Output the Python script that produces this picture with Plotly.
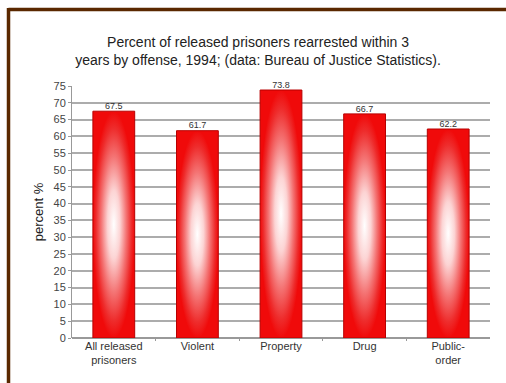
import plotly.graph_objects as go

# Rearrest rates within 3 years of release, 1994 (Bureau of Justice Statistics)
categories = ["All released<br>prisoners", "Violent", "Property", "Drug", "Public-<br>order"]
values = [67.5, 61.7, 73.8, 66.7, 62.2]
y_ticks = list(range(0, 80, 5))

BAR_HALF = 0.25  # half of the bar width, in category units

fig = go.Figure()

# Each bar is a filled rectangle so it can carry a radial white-to-red glow
for i, v in enumerate(values):
    fig.add_trace(go.Scatter(
        x=[i - BAR_HALF, i + BAR_HALF, i + BAR_HALF, i - BAR_HALF, i - BAR_HALF],
        y=[0, 0, v, v, 0],
        mode="lines",
        fill="toself",
        fillgradient=dict(
            type="radial",
            colorscale=[[0.0, "#ffffff"], [0.3, "#fcd4d4"], [0.6, "#f47474"],
                        [0.85, "#ee2c2c"], [1.0, "#f00a0a"]],
        ),
        line=dict(color="#b80000", width=1),
        hoverinfo="skip",
        showlegend=False,
    ))

# Value labels above the bars
fig.add_trace(go.Scatter(
    x=list(range(len(values))),
    y=values,
    mode="text",
    text=[f"{v:.1f}" for v in values],
    textposition="top center",
    textfont=dict(family="Liberation Sans, Arial, sans-serif", size=9, color="#333333"),
    cliponaxis=False,
    hoverinfo="skip",
    showlegend=False,
))

# Brown frame along the top and left edges
fig.add_shape(type="line", xref="paper", yref="paper",
              x0=-0.152, x1=1.05, y0=1.3036, y1=1.3036,
              line=dict(color="#5a2800", width=3.5), layer="above")
fig.add_shape(type="line", xref="paper", yref="paper",
              x0=-0.1519, x1=-0.1519, y0=-0.2, y1=1.31,
              line=dict(color="#5a2800", width=3.5), layer="above")

fig.update_layout(
    width=506,
    height=383,
    margin=dict(l=72, r=16, t=86, b=45),
    paper_bgcolor="white",
    plot_bgcolor="white",
    font=dict(family="Liberation Sans, Arial, sans-serif", color="#333333"),
    title=dict(
        text="Percent of released prisoners rearrested within 3<br>"
             "years by offense, 1994; (data: Bureau of Justice Statistics).",
        x=0.51, xanchor="center",
        y=0.878, yanchor="middle",
        font=dict(size=14, color="#222222"),
    ),
    xaxis=dict(
        range=[-0.5, len(values) - 0.5],
        tickvals=list(range(len(categories))),
        ticktext=categories,
        tickfont=dict(size=11, color="#333333"),
        ticks="",
        showgrid=False,
        zeroline=False,
        showline=False,
        fixedrange=True,
        minor=dict(tickvals=[k + 0.5 for k in range(len(categories) - 1)],
                   ticks="outside", ticklen=2, tickcolor="#999999", showgrid=False),
    ),
    yaxis=dict(
        range=[0, 75],
        tickvals=y_ticks,
        tickfont=dict(size=11, color="#444444"),
        showgrid=True,
        gridcolor="#acacac",
        gridwidth=1.5,
        zeroline=True,
        zerolinecolor="#999999",
        zerolinewidth=1.5,
        showline=True,
        linecolor="#999999",
        linewidth=1,
        ticks="outside",
        ticklen=3,
        tickcolor="#999999",
        title=dict(text="percent %", font=dict(size=13, color="#222222"), standoff=6),
        fixedrange=True,
    ),
)

fig.write_html("out.html")
